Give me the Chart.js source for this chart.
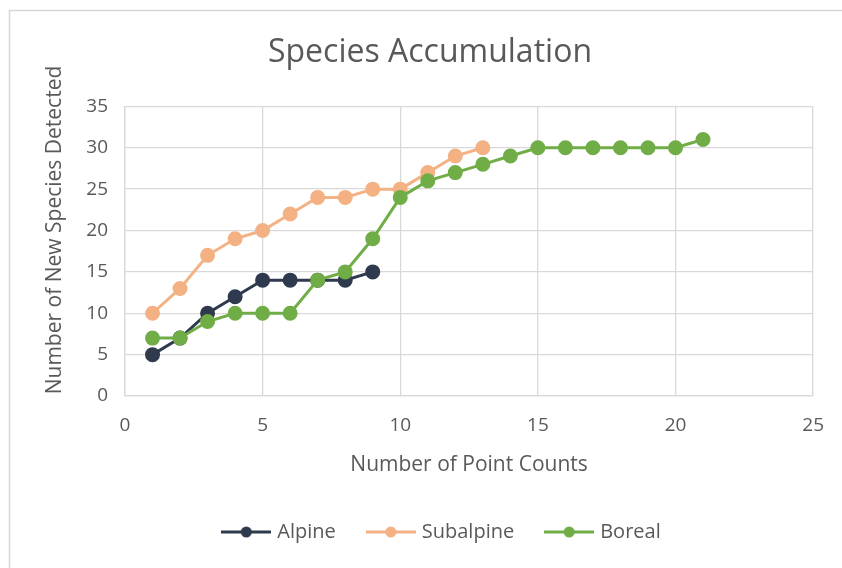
<!DOCTYPE html>
<html>
<head>
<meta charset="utf-8">
<script src="https://cdn.jsdelivr.net/npm/chart.js@4/dist/chart.umd.min.js"></script>
<style>
  html, body { margin: 0; padding: 0; background: #ffffff; }
  #wrap { width: 842px; height: 568px; }
</style>
</head>
<body>
<div id="wrap"><canvas id="c" width="842" height="568"></canvas></div>
<script>
// Point counts (x) and cumulative species detected (y) per habitat
const alpineCounts    = [1, 2, 3, 4, 5, 6, 7, 8, 9];
const alpineSpecies   = [5, 7, 10, 12, 14, 14, 14, 14, 15];

const subalpineCounts  = [1, 2, 3, 4, 5, 6, 7, 8, 9, 10, 11, 12, 13];
const subalpineSpecies = [10, 13, 17, 19, 20, 22, 24, 24, 25, 25, 27, 29, 30];

const borealCounts  = [1, 2, 3, 4, 5, 6, 7, 8, 9, 10, 11, 12, 13, 14, 15, 16, 17, 18, 19, 20, 21];
const borealSpecies = [7, 7, 9, 10, 10, 10, 14, 15, 19, 24, 26, 27, 28, 29, 30, 30, 30, 30, 30, 30, 31];

const seriesNames = ['Alpine', 'Subalpine', 'Boreal'];
const seriesColors = ['#2F3A4F', '#F4B183', '#70AD47'];

const xTicks = [0, 5, 10, 15, 20, 25];
const yTicks = [0, 5, 10, 15, 20, 25, 30, 35];

const chartTitle = 'Species Accumulation';
const xAxisTitle = 'Number of Point Counts';
const yAxisTitle = 'Number of New Species Detected';

const textColor = '#595959';
const gridColor = '#D9D9D9';

const toPoints = (xs, ys) => xs.map((x, i) => ({ x: x, y: ys[i] }));

// Legend marker: short line with a dot in the middle
function legendMarker(color) {
  const cv = document.createElement('canvas');
  cv.width = 50; cv.height = 14;
  const g = cv.getContext('2d');
  g.strokeStyle = color; g.lineWidth = 3;
  g.beginPath(); g.moveTo(0, 7); g.lineTo(50, 7); g.stroke();
  g.fillStyle = color;
  g.beginPath(); g.arc(25, 7, 5.5, 0, Math.PI * 2); g.fill();
  return cv;
}
const markers = seriesColors.map(legendMarker);

// Light frame around the whole chart, plus small placement tweaks
const framePlugin = {
  id: 'frame',
  afterLayout(chart) {
    // nudge the title and legend to the right of the plot-centred default
    chart.titleBlock.left += 14; chart.titleBlock.right += 14;
    chart.legend.left += 27; chart.legend.right += 27;
  },
  beforeDraw(chart) {
    const ctx = chart.ctx;
    ctx.save();
    ctx.fillStyle = '#ffffff';
    ctx.fillRect(0, 0, chart.width, chart.height);
    ctx.strokeStyle = '#D6D6D6';
    ctx.lineWidth = 1.5;
    ctx.strokeRect(9.5, 10.5, 845, 600);
    ctx.restore();
  },
  afterDraw(chart) {
    // vertical axis title, set a little above the plot's mid-height
    const ctx = chart.ctx;
    ctx.save();
    ctx.translate(55, 230);
    ctx.rotate(-Math.PI / 2);
    ctx.fillStyle = textColor;
    ctx.font = '21px "Open Sans", sans-serif';
    ctx.textAlign = 'center';
    ctx.textBaseline = 'middle';
    ctx.fillText(yAxisTitle, 0, 0);
    ctx.restore();
  }
};

const datasets = [
  { data: toPoints(alpineCounts, alpineSpecies) },
  { data: toPoints(subalpineCounts, subalpineSpecies) },
  { data: toPoints(borealCounts, borealSpecies) }
].map((d, i) => Object.assign(d, {
  label: seriesNames[i],
  borderColor: seriesColors[i],
  backgroundColor: seriesColors[i],
  pointBackgroundColor: seriesColors[i],
  pointBorderColor: seriesColors[i],
  borderWidth: 3,
  pointRadius: 6,
  pointHoverRadius: 6,
  showLine: true,
  tension: 0,
  order: 3 - i
}));

new Chart(document.getElementById('c'), {
  type: 'scatter',
  data: { datasets: datasets },
  plugins: [framePlugin],
  options: {
    responsive: false,
    animation: false,
    layout: { padding: { left: 18, right: 28, top: 34, bottom: 16 } },
    plugins: {
      title: {
        display: true,
        text: chartTitle,
        color: textColor,
        font: { family: '"Open Sans", sans-serif', size: 32, weight: 'normal' },
        padding: { top: 0, bottom: 34 }
      },
      legend: {
        position: 'bottom',
        labels: {
          color: textColor,
          font: { family: '"Open Sans", sans-serif', size: 20 },
          usePointStyle: true,
          pointStyleWidth: 42,
          padding: 34,
          generateLabels(chart) {
            return chart.data.datasets.map((ds, i) => ({
              text: ds.label,
              fillStyle: seriesColors[i],
              strokeStyle: seriesColors[i],
              fontColor: textColor,
              lineWidth: 0,
              pointStyle: markers[i],
              hidden: false,
              datasetIndex: i
            }));
          }
        }
      },
      tooltip: { enabled: false }
    },
    scales: {
      x: {
        type: 'linear',
        min: 0, max: 25,
        afterBuildTicks(scale) { scale.ticks = xTicks.map(v => ({ value: v })); },
        afterFit(scale) { scale.height = 92; },
        grid: { color: gridColor, lineWidth: 1.3, drawTicks: false },
        border: { color: gridColor, width: 1.3 },
        ticks: {
          color: textColor,
          font: { family: '"Open Sans", sans-serif', size: 19 },
          padding: 18
        },
        title: {
          display: true,
          text: xAxisTitle,
          color: textColor,
          font: { family: '"Open Sans", sans-serif', size: 21 },
          padding: { top: 4, bottom: 10 }
        }
      },
      y: {
        type: 'linear',
        min: 0, max: 35,
        afterBuildTicks(scale) { scale.ticks = yTicks.map(v => ({ value: v })); },
        afterFit(scale) { scale.width = 107; },
        grid: { color: gridColor, lineWidth: 1.3, drawTicks: false },
        border: { color: gridColor, width: 1.3 },
        ticks: {
          color: textColor,
          font: { family: '"Open Sans", sans-serif', size: 19 },
          padding: 17
        }
      }
    }
  }
});
</script>
</body>
</html>
